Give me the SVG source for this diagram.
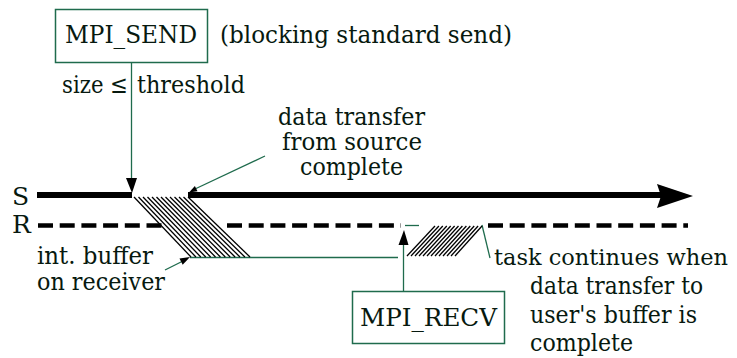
<svg xmlns="http://www.w3.org/2000/svg" width="737" height="358" viewBox="0 0 737 358">
<defs>
<style>
text{font-family:"DejaVu Serif","Liberation Serif",serif;font-size:25px;fill:#07190f}
.box{fill:#fff;stroke:#1f6b4d;stroke-width:1.5}
.thin{stroke:#1f6b4d;stroke-width:1.3;fill:none}
.thick{stroke:#000;stroke-width:6;fill:none}
.dash{stroke:#000;stroke-width:4.5;stroke-dasharray:15 6.7;fill:none}
.hatch{stroke:#000;stroke-width:1.3}
.head{fill:#000}
</style>
</defs>
<rect width="737" height="358" fill="#fff"/>
<g id="connectors">
  <line class="thick" x1="37" y1="195" x2="132" y2="195"/>
  <line class="thick" x1="188" y1="195" x2="662" y2="195"/>
  <polygon class="head" points="657,184 693,196 657,208 661,196"/>
  <line class="dash" x1="38" y1="225.5" x2="162" y2="225.5"/>
  <line class="dash" x1="227" y1="225.5" x2="401" y2="225.5"/>
  <line class="thin" x1="405" y1="225.5" x2="419" y2="225.5"/>
  <line class="dash" x1="488" y1="225.5" x2="688" y2="225.5"/>
  <line class="thin" x1="131.5" y1="62" x2="131.5" y2="180"/>
  <polygon class="head" points="126,178 137,178 132,193"/>
  <line class="thin" x1="265" y1="156" x2="195" y2="189"/>
  <polygon class="head" points="189,192.5 197.5,191.3 194.9,185.9"/>
  <line class="thin" x1="165" y1="270" x2="183" y2="261"/>
  <polygon class="head" points="190,257 182.7,264.7 179.5,258.5"/>
  <line class="thin" x1="190" y1="257.5" x2="398" y2="257.5"/>
  <line class="thin" x1="403.5" y1="291" x2="403.5" y2="242"/>
  <polygon class="head" points="398.5,245 408.5,245 404,230"/>
  <line class="thin" x1="482" y1="225" x2="490" y2="258"/>
  <g id="hatch1">
    <line class="hatch" x1="134" y1="197" x2="191" y2="257"/>
    <line class="hatch" x1="138.5" y1="197" x2="195.9" y2="257"/>
    <line class="hatch" x1="143" y1="197" x2="200.8" y2="257"/>
    <line class="hatch" x1="147.5" y1="197" x2="205.7" y2="257"/>
    <line class="hatch" x1="152" y1="197" x2="210.6" y2="257"/>
    <line class="hatch" x1="156.5" y1="197" x2="215.5" y2="257"/>
    <line class="hatch" x1="161" y1="197" x2="220.4" y2="257"/>
    <line class="hatch" x1="165.5" y1="197" x2="225.3" y2="257"/>
    <line class="hatch" x1="170" y1="197" x2="230.2" y2="257"/>
    <line class="hatch" x1="174.5" y1="197" x2="235.1" y2="257"/>
    <line class="hatch" x1="179" y1="197" x2="240" y2="257"/>
    <line class="hatch" x1="183.5" y1="197" x2="244.9" y2="257"/>
    <line class="hatch" x1="188" y1="197" x2="250" y2="257"/>
  </g>
  <g id="hatch2">
    <line class="hatch" x1="407" y1="256" x2="435" y2="226"/>
    <line class="hatch" x1="411" y1="256" x2="438.9" y2="226"/>
    <line class="hatch" x1="415" y1="256" x2="442.8" y2="226"/>
    <line class="hatch" x1="419" y1="256" x2="446.8" y2="226"/>
    <line class="hatch" x1="423" y1="256" x2="450.7" y2="226"/>
    <line class="hatch" x1="427" y1="256" x2="454.6" y2="226"/>
    <line class="hatch" x1="431" y1="256" x2="458.5" y2="226"/>
    <line class="hatch" x1="435" y1="256" x2="462.4" y2="226"/>
    <line class="hatch" x1="439" y1="256" x2="466.4" y2="226"/>
    <line class="hatch" x1="443" y1="256" x2="470.3" y2="226"/>
    <line class="hatch" x1="447" y1="256" x2="474.2" y2="226"/>
    <line class="hatch" x1="451" y1="256" x2="478.1" y2="226"/>
    <line class="hatch" x1="455" y1="256" x2="482" y2="226"/>
  </g>
</g>
<g id="mpi_send">
  <rect class="box" x="55.5" y="9.5" width="152" height="53"/>
  <text x="65" y="43" textLength="132" lengthAdjust="spacingAndGlyphs">MPI_SEND</text>
</g>
<g id="mpi_recv">
  <rect class="box" x="352.5" y="291.5" width="152" height="52"/>
  <text x="360" y="326" textLength="137" lengthAdjust="spacingAndGlyphs">MPI_RECV</text>
</g>
<g id="labels">
  <text x="220" y="43" textLength="292" lengthAdjust="spacingAndGlyphs">(blocking standard send)</text>
  <text y="93"><tspan x="62" textLength="66" lengthAdjust="spacingAndGlyphs">size ≤</tspan><tspan x="137" textLength="108" lengthAdjust="spacingAndGlyphs">threshold</tspan></text>
  <text x="278" y="125" textLength="147" lengthAdjust="spacingAndGlyphs">data transfer</text>
  <text x="282" y="150" textLength="140" lengthAdjust="spacingAndGlyphs">from source</text>
  <text x="300" y="175" textLength="103" lengthAdjust="spacingAndGlyphs">complete</text>
  <text x="12" y="205">S</text>
  <text x="12" y="233">R</text>
  <text x="37" y="264" textLength="116" lengthAdjust="spacingAndGlyphs">int. buffer</text>
  <text x="37" y="290" textLength="128" lengthAdjust="spacingAndGlyphs">on receiver</text>
  <text x="494" y="265" style="font-size:23px" textLength="234" lengthAdjust="spacingAndGlyphs">task continues when</text>
  <text x="530" y="294" textLength="173" lengthAdjust="spacingAndGlyphs">data transfer to</text>
  <text x="530" y="323" textLength="167" lengthAdjust="spacingAndGlyphs">user's buffer is</text>
  <text x="530" y="351" textLength="103" lengthAdjust="spacingAndGlyphs">complete</text>
</g>
</svg>
